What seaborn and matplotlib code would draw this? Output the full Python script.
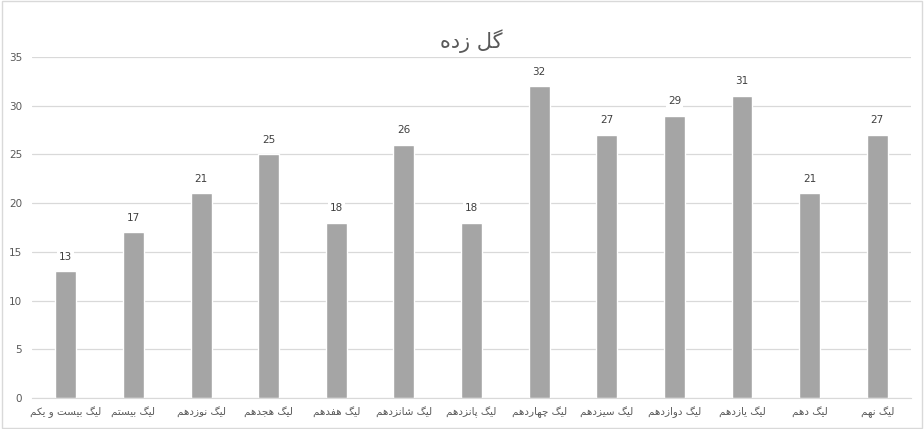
import matplotlib
matplotlib.use('Agg')
import matplotlib.pyplot as plt
import seaborn as sns
import pandas as pd

# Data
leagues = ['لیگ بیست و یکم', 'لیگ بیستم', 'لیگ نوزدهم', 'لیگ هجدهم', 'لیگ هفدهم',
           'لیگ شانزدهم', 'لیگ پانزدهم', 'لیگ چهاردهم', 'لیگ سیزدهم', 'لیگ دوازدهم',
           'لیگ یازدهم', 'لیگ دهم', 'لیگ نهم']
goals = [13, 17, 21, 25, 18, 26, 18, 32, 27, 29, 31, 21, 27]
title = 'گل زده'

# Arabic presentation forms: isolated, final, initial, medial
forms = {
    'ا': ('\uFE8D', '\uFE8E'), 'د': ('\uFEA9', '\uFEAA'), 'ر': ('\uFEAD', '\uFEAE'),
    'ز': ('\uFEAF', '\uFEB0'), 'و': ('\uFEED', '\uFEEE'),
    'ب': ('\uFE8F', '\uFE90', '\uFE91', '\uFE92'), 'پ': ('\uFB56', '\uFB57', '\uFB58', '\uFB59'),
    'ت': ('\uFE95', '\uFE96', '\uFE97', '\uFE98'), 'ج': ('\uFE9D', '\uFE9E', '\uFE9F', '\uFEA0'),
    'چ': ('\uFB7A', '\uFB7B', '\uFB7C', '\uFB7D'), 'س': ('\uFEB1', '\uFEB2', '\uFEB3', '\uFEB4'),
    'ش': ('\uFEB5', '\uFEB6', '\uFEB7', '\uFEB8'), 'ف': ('\uFED1', '\uFED2', '\uFED3', '\uFED4'),
    'ک': ('\uFB8E', '\uFB8F', '\uFB90', '\uFB91'), 'گ': ('\uFB92', '\uFB93', '\uFB94', '\uFB95'),
    'ل': ('\uFEDD', '\uFEDE', '\uFEDF', '\uFEE0'), 'م': ('\uFEE1', '\uFEE2', '\uFEE3', '\uFEE4'),
    'ن': ('\uFEE5', '\uFEE6', '\uFEE7', '\uFEE8'), 'ه': ('\uFEE9', '\uFEEA', '\uFEEB', '\uFEEC'),
    'ی': ('\uFBFC', '\uFBFD', '\uFBFE', '\uFBFF'),
}


def shape(text):
    # join letters and flip to visual order, since matplotlib has no bidi
    out = []
    for i, ch in enumerate(text):
        if ch not in forms:
            out.append(ch)
            continue
        prev = text[i - 1] if i > 0 else ''
        nxt = text[i + 1] if i + 1 < len(text) else ''
        joins_prev = prev in forms and len(forms[prev]) == 4
        joins_next = len(forms[ch]) == 4 and nxt in forms
        f = forms[ch]
        if joins_prev and joins_next:
            out.append(f[3])
        elif joins_prev:
            out.append(f[1])
        elif joins_next:
            out.append(f[2])
        else:
            out.append(f[0])
    return ''.join(reversed(out))


df = pd.DataFrame({'league': [shape(s) for s in leagues], 'goals': goals})

sns.set_style('white')
plt.rcParams['font.family'] = ['DejaVu Sans']

fig = plt.figure(figsize=(9.24, 4.29), dpi=100)
ax = fig.add_axes([0.0346, 0.0723, 0.9514, 0.7947])

sns.barplot(data=df, x='league', y='goals', color='#a5a5a5', width=0.31,
            saturation=1, ax=ax, zorder=2)

ax.set_ylim(0, 35)
ax.set_xlim(-0.5, len(goals) - 0.5)
ax.set_yticks(range(0, 36, 5))
ax.yaxis.grid(True, color='#d9d9d9', linewidth=0.9, zorder=0)
ax.set_axisbelow(True)
for s in ['top', 'right', 'left']:
    ax.spines[s].set_visible(False)
ax.spines['bottom'].set_color('#d9d9d9')
ax.tick_params(axis='both', length=0, colors='#595959', labelsize=7.5)
ax.tick_params(axis='y', pad=7)
ax.tick_params(axis='x', pad=6)
ax.set_xlabel('')
ax.set_ylabel('')

# value labels on a white box, like the original
for i, v in enumerate(goals):
    ax.text(i, v + 1.0, str(v), ha='center', va='bottom', fontsize=7.5,
            color='#404040', bbox=dict(facecolor='white', edgecolor='none', pad=1.5))

fig.text(0.51, 0.905, shape(title), ha='center', va='center', fontsize=15,
         color='#595959')

# chart border
fig.patches.append(plt.Rectangle((0.002, 0.003), 0.996, 0.994, transform=fig.transFigure,
                                 fill=False, edgecolor='#d9d9d9', linewidth=1))

fig.savefig('out.png', dpi=100)
